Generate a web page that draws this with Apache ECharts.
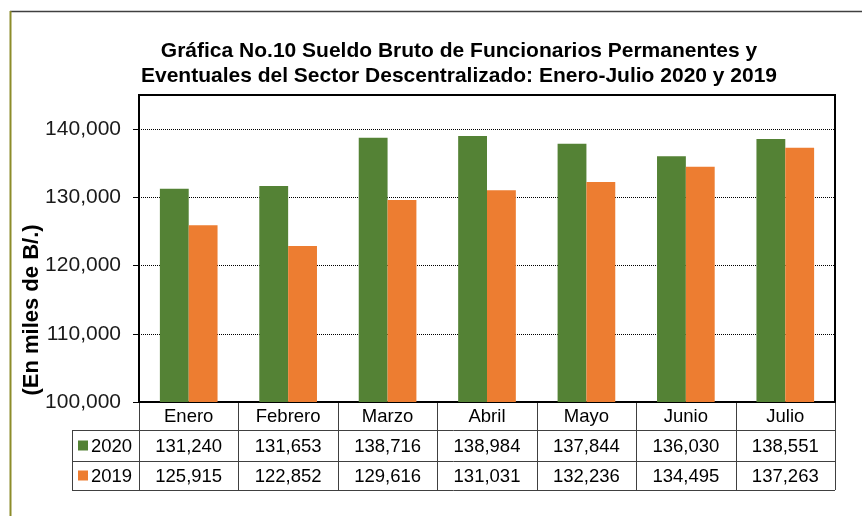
<!DOCTYPE html>
<html>
<head>
<meta charset="utf-8">
<script src="https://cdn.jsdelivr.net/npm/echarts@6/dist/echarts.min.js"></script>
<style>
  html, body { margin: 0; padding: 0; background: #fff; }
  #chart { width: 862px; height: 516px; }
</style>
</head>
<body>
<div id="chart"></div>
<script>
// data
const months = ['Enero', 'Febrero', 'Marzo', 'Abril', 'Mayo', 'Junio', 'Julio'];
const data2020 = [131240, 131653, 138716, 138984, 137844, 136030, 138551];
const data2019 = [125915, 122852, 129616, 131031, 132236, 134495, 137263];
const yTicks = [100000, 110000, 120000, 130000, 140000];

const GREEN = '#548235';
const ORANGE = '#ED7D31';
const FONT = 'Arial, "Liberation Sans", sans-serif';

const grid = { left: 139, top: 95, right: 27, bottom: 114 };
const W = 862, H = 516;
const plotW = W - grid.left - grid.right;
const axisY = H - grid.bottom;

const fmt = v => v.toLocaleString('en-US');

// data table under the plot
function buildTable() {
  const els = [];
  const cw = plotW / months.length;
  const rowTop = [axisY, axisY + 28, axisY + 59, axisY + 88];
  const lineStyle = { stroke: '#404040', lineWidth: 1 };
  const cellFont = '18.5px ' + FONT;
  // vertical lines
  for (let i = 0; i <= months.length; i++) {
    const x = Math.round(grid.left + i * cw) + 0.5;
    els.push({ type: 'line', shape: { x1: x, y1: rowTop[0], x2: x, y2: rowTop[3] }, style: lineStyle });
  }
  // left legend column
  els.push({ type: 'line', shape: { x1: 72.5, y1: rowTop[1], x2: 72.5, y2: rowTop[3] }, style: lineStyle });
  // horizontal lines
  [1, 2, 3].forEach(r => {
    const y = rowTop[r] + 0.5;
    els.push({ type: 'line', shape: { x1: 72, y1: y, x2: grid.left + plotW, y2: y }, style: lineStyle });
  });
  const rows = [data2020, data2019];
  months.forEach((m, i) => {
    const cx = grid.left + (i + 0.5) * cw;
    els.push({ type: 'text', x: cx, y: (rowTop[0] + rowTop[1]) / 2 + 1,
      style: { text: m, font: cellFont, fill: '#000', align: 'center', verticalAlign: 'middle' } });
    rows.forEach((arr, r) => {
      els.push({ type: 'text', x: cx, y: (rowTop[r + 1] + rowTop[r + 2]) / 2 + 1,
        style: { text: fmt(arr[i]), font: cellFont, fill: '#000', align: 'center', verticalAlign: 'middle' } });
    });
  });
  [['2020', GREEN], ['2019', ORANGE]].forEach((s, r) => {
    const cy = (rowTop[r + 1] + rowTop[r + 2]) / 2;
    els.push({ type: 'rect', shape: { x: 78, y: cy - 5, width: 10, height: 10 }, style: { fill: s[1] } });
    els.push({ type: 'text', x: 91, y: cy + 1,
      style: { text: s[0], font: cellFont, fill: '#000', align: 'left', verticalAlign: 'middle' } });
  });
  return els;
}

const chart = echarts.init(document.getElementById('chart'), null, { renderer: 'canvas' });

const option = {
  backgroundColor: '#fff',
  animation: false,
  title: {
    text: 'Gráfica No.10 Sueldo Bruto de Funcionarios Permanentes y\nEventuales del Sector Descentralizado: Enero-Julio 2020 y 2019',
    left: 454,
    top: 34,
    textAlign: 'center',
    textStyle: { fontFamily: FONT, fontSize: 21, fontWeight: 'bold', color: '#000', lineHeight: 25 }
  },
  grid: {
    left: grid.left, top: grid.top, right: grid.right, bottom: grid.bottom,
    show: true, borderColor: '#000', borderWidth: 2, backgroundColor: 'transparent'
  },
  xAxis: {
    type: 'category',
    data: months,
    axisLine: { show: true, lineStyle: { color: '#000', width: 2 } },
    axisTick: { show: false },
    axisLabel: { show: false }
  },
  yAxis: {
    type: 'value',
    min: 100000,
    max: 145000,
    interval: 10000,
    axisLine: { show: true, lineStyle: { color: '#000', width: 2 } },
    axisTick: { show: true, length: 6, lineStyle: { color: '#000' }, customValues: yTicks },
    axisLabel: {
      customValues: yTicks,
      margin: 18,
      fontFamily: FONT, fontSize: 21, color: '#1a1a1a',
      formatter: v => fmt(v)
    },
    splitLine: { show: true, lineStyle: { color: '#000', type: 'dotted', width: 1 } }
  },
  series: [
    { name: '2020', type: 'bar', data: data2020, barGap: '0%', barCategoryGap: '42%',
      itemStyle: { color: GREEN } },
    { name: '2019', type: 'bar', data: data2019, barGap: '0%', barCategoryGap: '42%',
      itemStyle: { color: ORANGE } }
  ],
  graphic: [
    // outer chart frame
    { type: 'line', shape: { x1: 10, y1: 11.5, x2: W, y2: 11.5 }, style: { stroke: '#404040', lineWidth: 1.5 } },
    { type: 'line', shape: { x1: 10.5, y1: 11, x2: 10.5, y2: H }, style: { stroke: '#8C8C2A', lineWidth: 2 } },
    { type: 'text', x: 32, y: 310, rotation: Math.PI / 2,
      style: { text: '(En miles de B/.)', font: 'bold 22px ' + FONT, fill: '#000', align: 'center', verticalAlign: 'middle' } }
  ].concat(buildTable())
};

chart.setOption(option);
</script>
</body>
</html>
